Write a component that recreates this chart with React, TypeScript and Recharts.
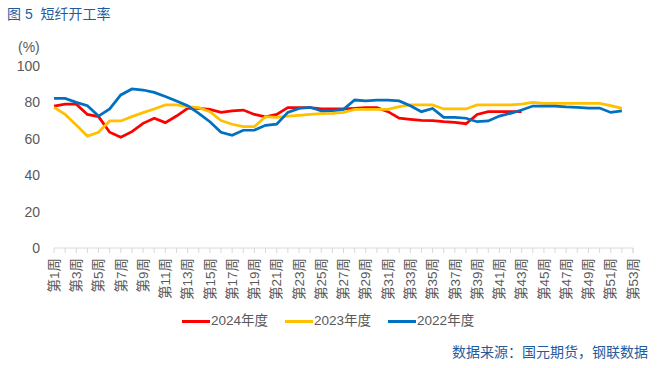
import React from "react";
import { LineChart, Line, XAxis, YAxis } from "recharts";

const weeks: string[] = Array.from({ length: 53 }, (_, i) => `第${i + 1}周`);

const rate2024: number[] = [
  78.0, 79.0, 79.0, 73.4, 72.2, 63.6, 60.8, 63.9, 68.5, 71.3, 68.9, 72.5, 76.7, 76.7, 76.2, 74.5, 75.3, 75.8,
  73.4, 72.0, 73.4, 77.1, 77.1, 77.1, 76.4, 76.4, 76.4, 76.7, 77.1, 77.1, 74.9, 71.3, 70.7, 70.1, 70.0, 69.4,
  69.0, 68.3, 73.4, 74.9, 74.9, 74.9, 74.9,
];

const rate2023: number[] = [
  77.3, 73.4, 67.6, 61.5, 63.6, 69.8, 69.8, 72.2, 74.4, 76.4, 78.6, 78.6, 77.7, 77.1, 74.9, 70.0, 68.0, 66.7,
  66.7, 72.2, 71.8, 72.5, 72.9, 73.4, 73.8, 74.0, 74.5, 76.2, 76.2, 76.2, 76.2, 77.7, 78.6, 78.6, 78.6, 76.4,
  76.4, 76.4, 78.6, 78.6, 78.6, 78.6, 79.1, 80.0, 79.5, 79.5, 79.5, 79.5, 79.5, 79.5, 78.2, 76.7,
];

const rate2022: number[] = [
  82.2, 82.2, 80.0, 78.2, 72.5, 76.4, 84.1, 87.4, 86.8, 85.5, 83.2, 80.8, 78.2, 74.0, 69.4, 63.6, 61.9, 64.7,
  64.8, 67.4, 68.0, 74.5, 76.7, 77.3, 75.3, 75.5, 76.2, 81.3, 80.8, 81.3, 81.3, 80.8, 78.2, 74.9, 76.7, 71.8,
  71.8, 71.3, 69.4, 69.8, 72.5, 74.0, 75.8, 78.0, 78.0, 78.0, 77.5, 77.3, 76.9, 76.9, 74.5, 75.3,
];

const yTicks: number[] = [0, 20, 40, 60, 80, 100];

const seriesDefs = [
  { key: "y2024", name: "2024年度", color: "#FF0000", values: rate2024 },
  { key: "y2023", name: "2023年度", color: "#FFC000", values: rate2023 },
  { key: "y2022", name: "2022年度", color: "#0070C0", values: rate2022 },
];

const data = weeks.map((w, i) => {
  const row: Record<string, string | number | null> = { week: w };
  seriesDefs.forEach((s) => {
    row[s.key] = i < s.values.length ? s.values[i] : null;
  });
  return row;
});

const FONT = "'Liberation Sans', 'Noto Sans CJK SC', sans-serif";
const TEXT_GRAY = "#595959";
const AXIS_GRAY = "#D9D9D9";
const TITLE_BLUE = "#1F5C9E";

const XTick = (props: any) => {
  const { x, y, payload, index } = props;
  const half = payload && payload.offset ? payload.offset : 0;
  const axisY = y - 8;
  const left = x - half;
  const right = x + half;
  const isLast = index === weeks.length - 1;
  return (
    <g>
      <line x1={left} x2={left} y1={axisY} y2={axisY + 5} stroke={AXIS_GRAY} strokeWidth={1} />
      {isLast && <line x1={right} x2={right} y1={axisY} y2={axisY + 5} stroke={AXIS_GRAY} strokeWidth={1} />}
      {index % 2 === 0 && (
        <text
          x={right}
          y={axisY + 10}
          transform={`rotate(-90, ${right}, ${axisY + 10})`}
          textAnchor="end"
          dy="0.35em"
          fill={TEXT_GRAY}
          fontSize={13.5}
          fontFamily={FONT}
        >
          {payload.value}
        </text>
      )}
    </g>
  );
};

export default function App() {
  return (
    <div style={{ position: "absolute", left: 0, top: 0, width: 663, height: 368, background: "#fff", fontFamily: FONT }}>
      <div style={{ position: "absolute", left: 7, top: 5, fontSize: 14, color: TITLE_BLUE, whiteSpace: "pre", lineHeight: "18px" }}>
        {"图 5  短纤开工率"}
      </div>
      <div style={{ position: "absolute", left: 18, top: 38, fontSize: 14, color: TEXT_GRAY, lineHeight: "18px" }}>(%)</div>
      <LineChart width={663} height={368} data={data} margin={{ top: 66, right: 30, left: 0, bottom: 0 }}>
        <XAxis
          dataKey="week"
          interval={0}
          height={120}
          tickLine={false}
          axisLine={{ stroke: AXIS_GRAY }}
          tick={<XTick />}
          tickSize={6}
          tickMargin={2}
        />
        <YAxis
          domain={[0, 100]}
          ticks={yTicks}
          width={54}
          axisLine={false}
          tickLine={false}
          tickSize={0}
          tickMargin={14}
          tick={{ fill: TEXT_GRAY, fontSize: 14, fontFamily: FONT }}
        />
        {seriesDefs.map((s) => (
          <Line
            key={s.key}
            dataKey={s.key}
            name={s.name}
            stroke={s.color}
            strokeWidth={2.75}
            dot={false}
            type="linear"
            isAnimationActive={false}
            connectNulls={false}
          />
        ))}
      </LineChart>
      <div style={{ position: "absolute", left: 182, top: 312, display: "flex", alignItems: "center", fontSize: 13.5, color: TEXT_GRAY }}>
        {seriesDefs.map((s, i) => (
          <div key={s.key} style={{ display: "flex", alignItems: "center", marginRight: i < seriesDefs.length - 1 ? 17 : 0 }}>
            <div style={{ width: 28, height: 3, background: s.color, marginRight: 1 }} />
            <span style={{ lineHeight: "18px" }}>{s.name}</span>
          </div>
        ))}
      </div>
      <div style={{ position: "absolute", right: 15, top: 343, fontSize: 14, color: TITLE_BLUE, lineHeight: "18px" }}>
        数据来源：国元期货，钢联数据
      </div>
    </div>
  );
}
